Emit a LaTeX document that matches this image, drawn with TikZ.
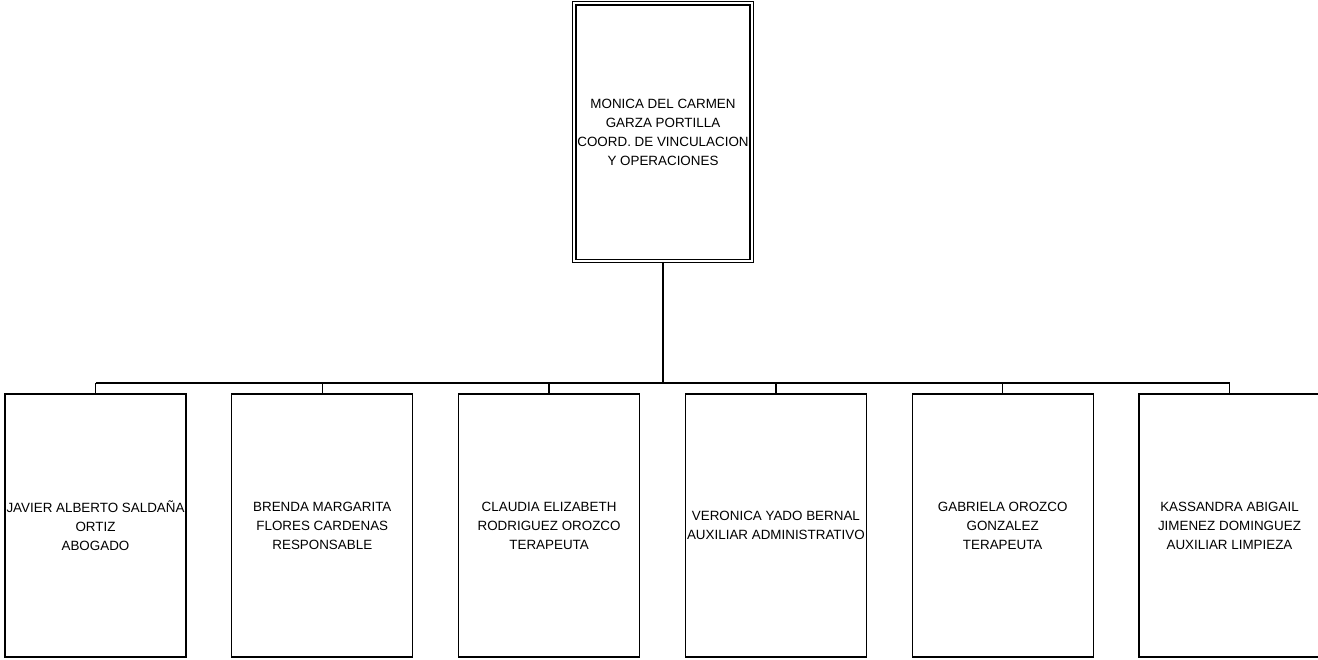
\documentclass[tikz,border=0pt]{standalone}
\usepackage{fontspec}
\setmainfont{Liberation Sans}
\begin{document}
\begin{tikzpicture}[x=1pt,y=-1pt,
  lbl/.style={align=center,font=\fontsize{13.4}{19}\selectfont,inner sep=0pt},
  staff/.style={lbl,draw,line width=1.3pt,minimum width=181pt,minimum height=263pt,outer sep=0pt},
  head/.style={lbl,draw,double,double distance=2pt,line width=1.4pt,minimum width=177.4pt,minimum height=257.7pt},
  busline/.style={line width=2.2pt},
  drop/.style={line width=1.4pt}]
\clip (0,0) rectangle (1318,659);
\node[head] (top) at (663,132.2) {MONICA DEL CARMEN\\GARZA PORTILLA\\COORD. DE VINCULACION\\Y OPERACIONES};
\node[staff] (b1) at (95.5,525.5) {JAVIER ALBERTO SALDAÑA\\ORTIZ\\ABOGADO};
\node[staff] (b2) at (322.3,525.5) {BRENDA MARGARITA\\FLORES CARDENAS\\RESPONSABLE};
\node[staff] (b3) at (549.1,525.5) {CLAUDIA ELIZABETH\\RODRIGUEZ OROZCO\\TERAPEUTA};
\node[staff] (b4) at (775.9,525.5) {VERONICA YADO BERNAL\\AUXILIAR ADMINISTRATIVO};
\node[staff] (b5) at (1002.7,525.5) {GABRIELA OROZCO\\GONZALEZ\\TERAPEUTA};
\node[staff] (b6) at (1229.5,525.5) {KASSANDRA ABIGAIL\\JIMENEZ DOMINGUEZ\\AUXILIAR LIMPIEZA};
\coordinate (bus) at (663,383);
\draw[busline] (top.south) -- (bus);
\draw[busline] (b1.north |- bus) -- (b6.north |- bus);
\foreach \b in {b1,b2,b3,b4,b5,b6}{
  \draw[drop] (\b.north |- bus) -- (\b.north);
}
\end{tikzpicture}
\end{document}
